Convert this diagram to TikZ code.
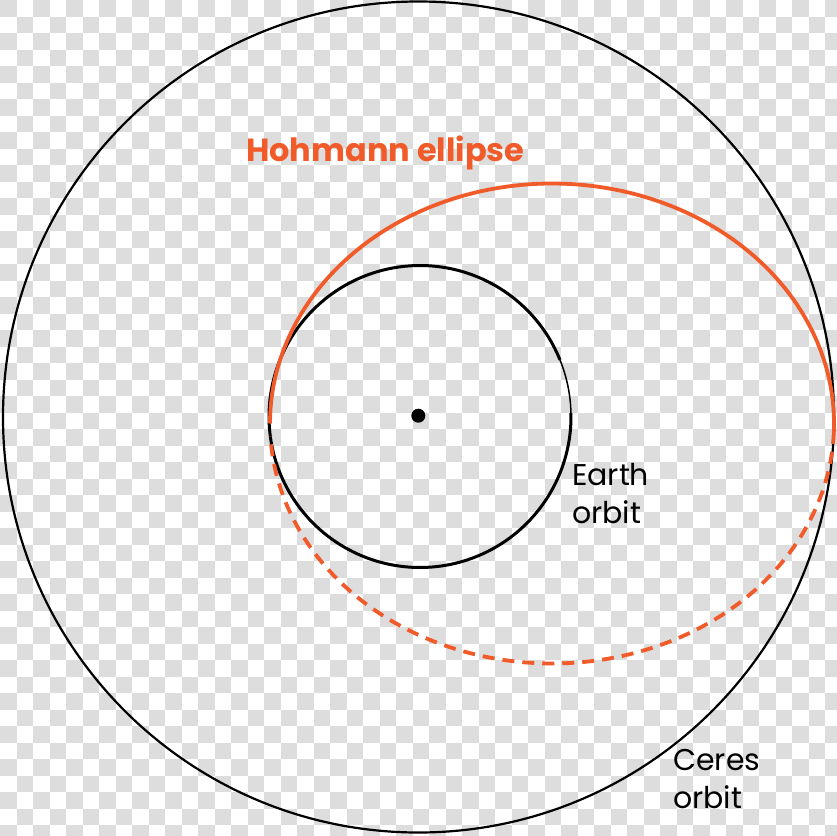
\documentclass[tikz,border=0pt]{standalone}
\usepackage{fontspec}
\setmainfont{Poppins}
\definecolor{hoh}{HTML}{F15A29}
\definecolor{chk}{RGB}{221,221,221}
\tikzset{
  orbitline/.style={draw=black, line width=2.2pt},
  earthline/.style={draw=black, line width=3pt},
  hohsolid/.style={draw=hoh, line width=3.8pt},
  hohdash/.style={draw=hoh, line width=3.8pt, dash pattern=on 12pt off 8pt},
  lbl/.style={anchor=base west, inner sep=0pt, align=left, font=\fontsize{30}{37.5}\selectfont},
}
\begin{document}
\begin{tikzpicture}[x=1pt,y=-1pt]
\useasboundingbox (0,0) rectangle (837,835);
\fill[white] (0,0) rectangle (837,835);
\begin{scope}
\clip (0,0) rectangle (837,835);
\foreach \r in {0,...,50}{\foreach \c in {0,...,25}{\fill[chk] ({(2*\c+mod(\r,2))*16.5},{\r*16.5}) rectangle ++(16.5,16.5);}}
\end{scope}
% Ceres orbit
\draw[orbitline] (418.5,417) circle[radius=415.5pt];
% Earth orbit
\draw[earthline] plot[domain=22:361.3, samples=200, smooth] ({420+151*cos(\x)},{416.5-151*sin(\x)});
\draw[draw=black, line width=1.5pt] plot[domain=1.3:22, samples=30, smooth] ({420+151*cos(\x)},{416.5-151*sin(\x)});
% Sun
\node[circle, fill=black, inner sep=0pt, minimum size=14pt] (sun) at (418.3,415.7) {};
% Hohmann ellipse
\draw[hohsolid] plot[domain=-2:180, samples=200, smooth] ({552+282*cos(\x)},{423.5-240*sin(\x)});
\draw[hohdash] plot[domain=358:183, samples=200, smooth] ({552+282*cos(\x)},{423.5-240*sin(\x)});
% Labels
\node[anchor=base west, inner sep=0pt, text=hoh, font=\fontsize{32}{40}\selectfont\bfseries] (title) at (246,161) {Hohmann ellipse};
\node[lbl] (earth) at (572,523) {Earth\\orbit};
\node[lbl] (ceres) at (673,808) {Ceres\\orbit};
\end{tikzpicture}
\end{document}
